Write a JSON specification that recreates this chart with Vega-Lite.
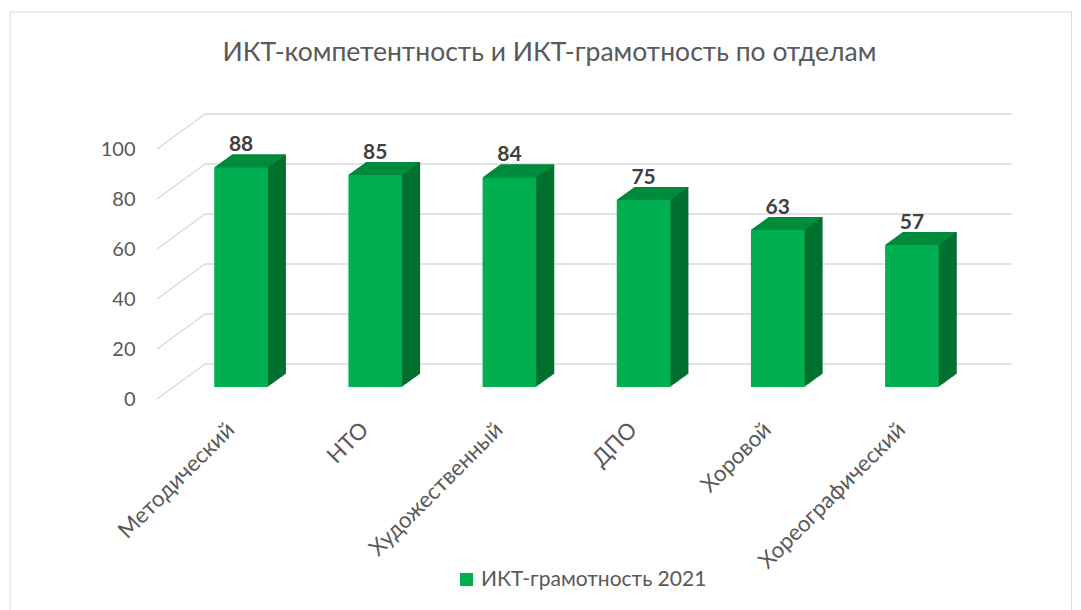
{"$schema":"https://vega.github.io/schema/vega-lite/v6.json","autosize":"none","width":855,"height":250,"padding":{"left":157,"top":149,"right":69,"bottom":211},"background":"white","config":{"view":{"stroke":null},"font":"Lato"},
"title":{"text":"ИКТ-компетентность и ИКТ-грамотность по отделам","anchor":"middle","frame":"group","dx":-35,"offset":-55,"fontSize":26.5,"fontWeight":"normal","color":"#595959","font":"Lato"},
"datasets":{"bars":[{"dept":"Методический","v":88,"s":"ИКТ-грамотность 2021"},{"dept":"НТО","v":85,"s":"ИКТ-грамотность 2021"},{"dept":"Художественный","v":84,"s":"ИКТ-грамотность 2021"},{"dept":"ДПО","v":75,"s":"ИКТ-грамотность 2021"},{"dept":"Хоровой","v":63,"s":"ИКТ-грамотность 2021"},{"dept":"Хореографический","v":57,"s":"ИКТ-грамотность 2021"}],
"grid":[{"t":0,"d0":0,"d1":1,"d2":17.8},{"t":20,"d0":0,"d1":1,"d2":17.8},{"t":40,"d0":0,"d1":1,"d2":17.8},{"t":60,"d0":0,"d1":1,"d2":17.8},{"t":80,"d0":0,"d1":1,"d2":17.8},{"t":100,"d0":0,"d1":1,"d2":17.8}],
"frame":[{"l":-3.06,"r":19.04,"top":154.8,"bot":-85}]},
"layer":[
{"layer":[
{"data":{"name":"frame"},"mark":{"type":"rect","fill":null,"stroke":"#d9d9d9","strokeWidth":1,"clip":false},"encoding":{"x":{"field":"l","type":"quantitative","scale":{"domain":[0,17.8],"range":[0,855],"nice":false,"zero":false},"axis":null},"x2":{"field":"r"},"y":{"field":"top","type":"quantitative","scale":{"domain":[0,100],"nice":false},"axis":{"values":[0,20,40,60,80,100],"title":null,"domain":false,"ticks":false,"grid":false,"labelFontSize":20,"labelColor":"#595959","labelPadding":22,"labelOffset":0.5,"labelFont":"Lato"}},"y2":{"field":"bot"}}},
{"data":{"name":"grid"},"mark":{"type":"rule","stroke":"#d9d9d9","strokeWidth":1.3,"y2Offset":-35},"encoding":{"x":{"field":"d0","type":"quantitative"},"x2":{"field":"d1"},"y":{"field":"t","type":"quantitative"},"y2":{"field":"t"}}},
{"data":{"name":"grid"},"mark":{"type":"rule","stroke":"#d9d9d9","strokeWidth":1.3,"yOffset":-35,"y2Offset":-35},"encoding":{"x":{"field":"d1","type":"quantitative"},"x2":{"field":"d2"},"y":{"field":"t","type":"quantitative"},"y2":{"field":"t"}}}
]},
{"data":{"name":"bars"},"encoding":{"x":{"field":"dept","type":"nominal","sort":null,"scale":{"range":[17,822],"paddingInner":0.6,"paddingOuter":0.3},"axis":{"orient":"bottom","title":null,"domain":false,"ticks":false,"labelAngle":-45,"labelFontSize":22.4,"labelColor":"#595959","labelPadding":19,"labelOffset":-18,"labelFont":"Lato","labelLimit":300}},"y":{"field":"v","type":"quantitative"},"y2":{"datum":0}},
"layer":[
{"mark":{"type":"bar","fill":"#00702f","xOffset":18,"yOffset":-24.4,"y2Offset":-25}},
{"mark":{"type":"bar","fill":"#00702f","xOffset":17,"yOffset":-23.7,"y2Offset":-24.3}},
{"mark":{"type":"bar","fill":"#00702f","xOffset":16,"yOffset":-23,"y2Offset":-23.6}},
{"mark":{"type":"bar","fill":"#00702f","xOffset":15,"yOffset":-22.2,"y2Offset":-22.8}},
{"mark":{"type":"bar","fill":"#00702f","xOffset":14,"yOffset":-21.5,"y2Offset":-22.1}},
{"mark":{"type":"bar","fill":"#00702f","xOffset":13,"yOffset":-20.8,"y2Offset":-21.4}},
{"mark":{"type":"bar","fill":"#00702f","xOffset":12,"yOffset":-20.1,"y2Offset":-20.7}},
{"mark":{"type":"bar","fill":"#00702f","xOffset":11,"yOffset":-19.3,"y2Offset":-19.9}},
{"mark":{"type":"bar","fill":"#00702f","xOffset":10,"yOffset":-18.6,"y2Offset":-19.2}},
{"mark":{"type":"bar","fill":"#00702f","xOffset":9,"yOffset":-17.9,"y2Offset":-18.5}},
{"mark":{"type":"bar","fill":"#00702f","xOffset":8,"yOffset":-17.2,"y2Offset":-17.8}},
{"mark":{"type":"bar","fill":"#00702f","xOffset":7,"yOffset":-16.5,"y2Offset":-17.1}},
{"mark":{"type":"bar","fill":"#00702f","xOffset":6,"yOffset":-15.7,"y2Offset":-16.3}},
{"mark":{"type":"bar","fill":"#00702f","xOffset":5,"yOffset":-15,"y2Offset":-15.6}},
{"mark":{"type":"bar","fill":"#00702f","xOffset":4,"yOffset":-14.3,"y2Offset":-14.9}},
{"mark":{"type":"bar","fill":"#00702f","xOffset":3,"yOffset":-13.6,"y2Offset":-14.2}},
{"mark":{"type":"bar","fill":"#00702f","xOffset":2,"yOffset":-12.8,"y2Offset":-13.4}},
{"mark":{"type":"bar","fill":"#00702f","xOffset":1,"yOffset":-12.1,"y2Offset":-12.7}},
{"mark":{"type":"point","filled":true,"fill":"#008a3c","opacity":1,"size":4,"shape":"M-27,0L27,0L45,-13L-9,-13Z","yOffset":-11.4},"encoding":{"y2":null}},
{"mark":{"type":"bar","yOffset":-11.4,"y2Offset":-12},"encoding":{"color":{"field":"s","type":"nominal","scale":{"range":["#00b050"]},"legend":{"title":null,"orient":"none","legendX":299,"legendY":420,"symbolType":"square","symbolSize":170,"labelFontSize":21,"labelColor":"#595959","labelFont":"Lato","labelLimit":400,"symbolStrokeWidth":0}}}},
{"mark":{"type":"text","fontSize":21,"fontWeight":"bold","color":"#404040","font":"Lato","yOffset":-34,"baseline":"middle"},"encoding":{"text":{"field":"v","type":"quantitative"},"y2":null}}
]}
],"resolve":{"scale":{"x":"independent"},"axis":{"x":"independent"}}}
